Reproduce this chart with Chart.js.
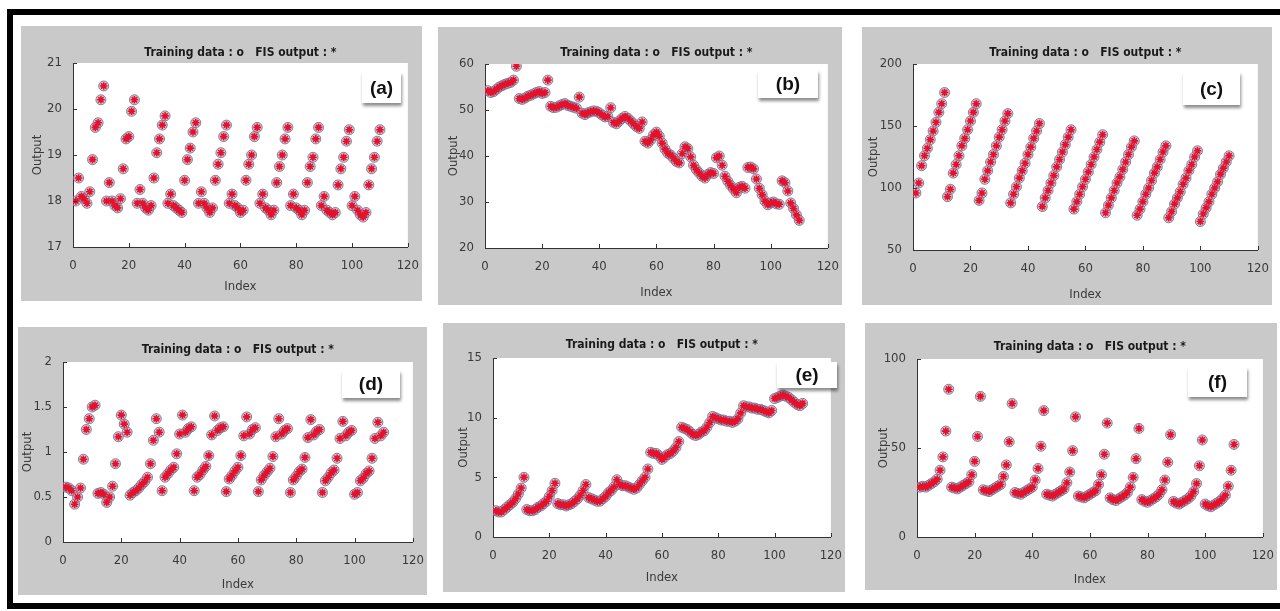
<!DOCTYPE html>
<html>
<head>
<meta charset="utf-8">
<script src="https://cdn.jsdelivr.net/npm/chart.js@4.4.0/dist/chart.umd.min.js"></script>
<style>
body{margin:0;width:1280px;height:611px;background:#fff;position:relative;overflow:hidden;}
#frame{position:absolute;left:7px;top:9px;width:1300px;height:600px;border:6px solid #000;border-right:none;box-sizing:border-box;}
.panel{position:absolute;background:#c9c9c9;}
.panel canvas{position:absolute;left:0;top:0;}
.tag{position:absolute;background:#fff;font:bold 19px "Liberation Sans",Arial,sans-serif;color:#111;
     display:flex;align-items:center;justify-content:center;box-shadow:1px 3px 3px rgba(0,0,0,0.45);}
</style>
</head>
<body>
<div id="frame"></div>
<script>
// 가로축: 데이터 순번 1~110, 눈금
const index = [];
for (let i = 1; i <= 110; i++) index.push(i);
const xTicks = [0, 20, 40, 60, 80, 100, 120];

// (a) 학습 데이터 값 (FIS 출력은 그림에서 학습 데이터와 겹쳐 있음)
const outA = [
  18.0, 18.5, 18.1, 18.05, 17.95, 18.2, 18.9, 19.6, 19.7, 20.2, 20.5,
  18.0, 18.4, 18.0, 17.9, 17.85, 18.05, 18.7, 19.35, 19.4, 19.95, 20.2,
  17.95, 18.25, 17.95, 17.85, 17.8, 17.9, 18.5, 19.05, 19.35, 19.65, 19.85,
  17.95, 18.15, 17.9, 17.85, 17.8, 17.75, 18.45, 18.9, 19.15, 19.5, 19.7,
  17.95, 18.2, 17.95, 17.85, 17.75, 17.85, 18.45, 18.8, 19.05, 19.4, 19.65,
  17.95, 18.15, 17.9, 17.85, 17.75, 17.8, 18.45, 18.8, 19.0, 19.4, 19.6,
  17.95, 18.15, 17.85, 17.8, 17.7, 17.8, 18.4, 18.75, 19.0, 19.35, 19.6,
  17.9, 18.15, 17.85, 17.8, 17.7, 17.8, 18.4, 18.75, 18.95, 19.35, 19.6,
  17.9, 18.1, 17.8, 17.75, 17.7, 17.75, 18.35, 18.7, 18.95, 19.3, 19.55,
  17.9, 18.1, 17.8, 17.7, 17.65, 17.75, 18.35, 18.7, 18.95, 19.3, 19.55
];
const yTicksA = [17, 18, 19, 20, 21];

// (b)
const outB = [
  54.2, 53.8, 54.0, 54.5, 55.0, 55.3, 55.6, 55.8, 56.0, 56.5, 59.5,
  52.5, 52.3, 52.6, 53.0, 53.2, 53.5, 53.8, 54.0, 53.6, 53.8, 56.5,
  50.8, 50.5, 50.6, 50.9, 51.2, 51.4, 51.0, 50.8, 50.6, 50.4, 52.8,
  49.3, 49.0, 49.4, 49.6, 49.8, 49.7, 49.4, 48.9, 48.5, 48.6, 50.5,
  47.3, 47.0, 47.6, 48.2, 48.6, 48.2, 47.6, 47.0, 46.4, 46.0, 47.4,
  43.2, 42.8, 43.5, 44.6, 45.2, 44.3, 42.8, 41.5, 40.6, 40.2, 39.5,
  38.8, 38.5, 40.5, 42.0, 41.6, 39.8, 38.0, 37.0, 36.3, 35.6, 35.2,
  36.0, 36.4, 36.2, 39.6, 40.0, 38.0, 35.6, 34.5, 33.6, 32.8, 32.0,
  33.2, 33.4, 33.0, 37.5, 37.6, 37.2, 35.0, 33.0, 31.6, 30.2, 29.4,
  29.8, 30.0, 29.6, 29.5, 34.6, 34.2, 32.4, 29.8, 28.6, 27.2, 26.0
];
const yTicksB = [20, 30, 40, 50, 60];

// (c)
const outC = [
  96, 104, 118, 126, 132, 139, 146, 153, 161, 168, 177,
  93, 99, 112, 119, 126, 134, 140, 147, 154, 161, 168,
  90, 96, 107, 114, 121, 127, 134, 141, 147, 154, 160,
  88, 95, 101, 108, 114, 120, 127, 133, 140, 146, 152,
  85, 92, 98, 104, 110, 117, 123, 129, 135, 141, 147,
  83, 89, 95, 101, 107, 113, 119, 125, 131, 137, 143,
  80, 86, 92, 98, 104, 109, 115, 121, 127, 133, 138,
  78, 83, 89, 95, 100, 106, 112, 117, 123, 129, 134,
  76, 81, 87, 92, 97, 103, 108, 114, 119, 125, 130,
  73, 79, 84, 89, 95, 100, 105, 111, 116, 121, 126
];
const yTicksC = [50, 100, 150, 200];

// (d)
const outD = [
  0.61, 0.60, 0.57, 0.42, 0.50, 0.60, 0.92, 1.25, 1.37, 1.50, 1.52,
  0.54, 0.55, 0.53, 0.44, 0.50, 0.62, 0.87, 1.17, 1.41, 1.31, 1.22,
  0.52, 0.55, 0.57, 0.60, 0.64, 0.67, 0.72, 0.87, 1.13, 1.37, 1.22,
  0.57, 0.72, 0.76, 0.80, 0.83, 0.98, 1.20, 1.41, 1.22, 1.26, 1.28,
  0.57, 0.72, 0.75, 0.80, 0.84, 0.96, 1.19, 1.40, 1.24, 1.27, 1.28,
  0.56, 0.70, 0.74, 0.79, 0.83, 0.96, 1.18, 1.39, 1.20, 1.25, 1.27,
  0.56, 0.69, 0.74, 0.78, 0.82, 0.95, 1.17, 1.37, 1.20, 1.24, 1.26,
  0.55, 0.69, 0.73, 0.78, 0.81, 0.94, 1.16, 1.36, 1.19, 1.23, 1.25,
  0.55, 0.68, 0.72, 0.77, 0.80, 0.93, 1.15, 1.34, 1.18, 1.22, 1.24,
  0.53, 0.55, 0.68, 0.71, 0.76, 0.79, 0.93, 1.15, 1.33, 1.18, 1.22
];
const yTicksD = [0, 0.5, 1, 1.5, 2];

// (e)
const outE = [
  2.2, 2.1, 2.1, 2.3, 2.5, 2.7, 2.9, 3.2, 3.6, 4.1, 5.0,
  2.3, 2.2, 2.2, 2.3, 2.5, 2.6, 2.8, 3.0, 3.4, 3.9, 4.5,
  2.8, 2.7, 2.7, 2.6, 2.7, 2.8, 3.0, 3.2, 3.5, 3.9, 4.4,
  3.3, 3.2, 3.1, 3.0, 3.0, 3.2, 3.4, 3.7, 3.9, 4.2, 4.8,
  4.4, 4.3, 4.3, 4.2, 4.1, 4.0, 4.1, 4.4, 4.7, 5.0, 5.7,
  7.1, 7.0, 7.0, 6.8, 6.5, 6.7, 6.9, 7.0, 7.2, 7.5, 8.0,
  9.2, 9.1, 9.0, 8.8, 8.6, 8.5, 8.6, 8.8, 8.9, 9.2, 9.6,
  10.1, 10.0, 9.9, 9.8, 9.8, 9.7, 9.7, 9.6, 9.7, 9.9, 10.4,
  11.0, 10.9, 10.9, 10.8, 10.8, 10.7, 10.7, 10.6, 10.5, 10.4, 10.6,
  11.6, 11.7, 11.8, 11.9, 11.8, 11.7, 11.5, 11.3, 11.1, 11.0, 11.2
];
const yTicksE = [0, 5, 10, 15];

// (f)
const outF = [
  28, 28.5, 28, 29, 30, 31, 32.5, 37.5, 45, 59.5, 83,
  28, 27.5, 27, 28, 29, 30, 31, 35, 42.5, 56.5, 79,
  26.5, 26, 25.5, 26.5, 27.5, 28.5, 29.5, 34, 40.5, 53.5, 75,
  25, 24.5, 24, 25, 26, 27, 28, 32, 38.5, 51, 71,
  24, 23.5, 23, 24, 25, 26, 27, 30.5, 36.5, 48.5, 67.5,
  23, 22.5, 22, 23, 24, 25, 26, 29.5, 35, 46.5, 64,
  22, 21, 20.5, 21.5, 22.5, 23.5, 25, 28, 33.5, 44, 61,
  21, 20, 19.5, 20.5, 21.5, 22.5, 24, 26.5, 32, 42, 57.5,
  20, 19, 18.5, 19.5, 20.5, 21.5, 23, 25.5, 30, 40, 54.5,
  18.5, 17.5, 17, 18, 19, 20, 21.5, 23.5, 28.5, 37.5, 52
];
const yTicksF = [0, 50, 100];

const TITLE = 'Training data : o   FIS output : *';
const NARROW = '"Liberation Sans Narrow","DejaVu Sans Condensed","Liberation Sans",Arial,sans-serif';

// 패널 배치: 회색 박스 / 흰 플롯 영역 / 제목 위치 / 라벨 상자
const panels = [
  {tag:'(a)', y:outA, yTicks:yTicksA, box:[21,26,422,301], plot:[73,63,408,247], titleY:53, yTitleX:38, xTitleY:287, tagBox:[362,72,39,31]},
  {tag:'(b)', y:outB, yTicks:yTicksB, box:[438,27,842,305], plot:[485,64,828,248], titleY:53, yTitleX:454, xTitleY:293, tagBox:[758,70,60,28]},
  {tag:'(c)', y:outC, yTicks:yTicksC, box:[862,27,1272,305], plot:[913,64,1260,250], titleY:53, yTitleX:874, xTitleY:295, tagBox:[1183,72,57,33]},
  {tag:'(d)', y:outD, yTicks:yTicksD, box:[18,327,427,595], plot:[63,362,413,542], titleY:350, yTitleX:28, xTitleY:585, tagBox:[342,370,58,28]},
  {tag:'(e)', y:outE, yTicks:yTicksE, box:[443,323,845,592], plot:[493,358,833,537], titleY:345, yTitleX:464, xTitleY:578, tagBox:[777,362,60,26]},
  {tag:'(f)', y:outF, yTicks:yTicksF, box:[865,323,1277,590], plot:[917,359,1265,537], titleY:347, yTitleX:884, xTitleY:580, tagBox:[1188,367,59,30]}
];

//플롯 영역 흰 배경
const whiteArea = {
  id: 'whiteArea',
  beforeDraw(chart){
    const {ctx, chartArea:a} = chart;
    ctx.save();
    ctx.fillStyle = '#fff';
    ctx.fillRect(a.left, a.top, a.right - a.left, a.bottom - a.top);
    ctx.restore();
  }
};
//안쪽으로 향한 눈금 (매트랩 스타일)
const inTicks = {
  id: 'inTicks',
  afterDraw(chart){
    const {ctx, chartArea:a, scales:{x, y}} = chart;
    ctx.save();
    ctx.strokeStyle = '#333';
    ctx.lineWidth = 1;
    ctx.beginPath();
    x.ticks.forEach(t => {
      const px = Math.round(x.getPixelForValue(t.value)) + 0.5;
      ctx.moveTo(px, a.bottom); ctx.lineTo(px, a.bottom - 4);
    });
    y.ticks.forEach(t => {
      const py = Math.round(y.getPixelForValue(t.value)) + 0.5;
      ctx.moveTo(a.left, py); ctx.lineTo(a.left + 4, py);
    });
    ctx.stroke();
    ctx.restore();
  }
};

function drawPanel(p){
  const [gl, gt, gr, gb] = p.box;
  const [pl, pt, pr, pb] = p.plot;
  const w = gr - gl, h = gb - gt;
  const div = document.createElement('div');
  div.className = 'panel';
  div.style.cssText = 'left:' + gl + 'px;top:' + gt + 'px;width:' + w + 'px;height:' + h + 'px';
  const cv = document.createElement('canvas');
  cv.width = w; cv.height = h;
  div.appendChild(cv);
  document.body.appendChild(div);

  const lh = 13 * 1.2;
  const tlh = 12 * 1.2;
  const pts = index.map((x, i) => ({x: x, y: p.y[i]}));
  const tickFont = {family: NARROW, size: 13};

  new Chart(cv, {
    type: 'scatter',
    data: {datasets: [
      {label: 'FIS output', data: pts, order: 0, pointStyle: 'star', pointRadius: 3.8,
       borderColor: '#e3122b', backgroundColor: '#e3122b', borderWidth: 1.6},
      {label: 'Training data', data: pts, order: 1, pointStyle: 'circle', pointRadius: 5,
       borderColor: 'rgba(95,115,155,0.85)', backgroundColor: 'rgba(214,140,165,0.55)', borderWidth: 1}
    ]},
    options: {
      responsive: false,
      animation: false,
      events: [],
      layout: {padding: {left: 0, top: 0, right: gr - pr, bottom: 0}},
      plugins: {
        legend: {display: false},
        tooltip: {enabled: false},
        title: {display: true, text: TITLE, fullSize: false, color: '#1a1a1a',
                font: {family: NARROW, size: 12, weight: 'bold'},
                padding: {top: p.titleY - gt - tlh / 2, bottom: pt - p.titleY - tlh / 2}}
      },
      scales: {
        x: {
          type: 'linear', min: 0, max: 120,
          afterBuildTicks: s => { s.ticks = xTicks.map(v => ({value: v})); },
          afterFit: s => { s.height = gb - pb; },
          grid: {display: false},
          border: {display: true, color: '#333'},
          ticks: {font: tickFont, color: '#3a3a3a', padding: 3, maxRotation: 0, callback: v => String(v)},
          title: {display: true, text: 'Index', color: '#3a3a3a', font: {family: NARROW, size: 13},
                  padding: {top: 0, bottom: gb - p.xTitleY - lh / 2}}
        },
        y: {
          type: 'linear', min: p.yTicks[0], max: p.yTicks[p.yTicks.length - 1],
          afterBuildTicks: s => { s.ticks = p.yTicks.map(v => ({value: v})); },
          afterFit: s => { s.width = pl - gl; },
          grid: {display: false},
          border: {display: true, color: '#333'},
          ticks: {font: tickFont, color: '#3a3a3a', padding: 3, callback: v => String(v)},
          title: {display: true, text: 'Output', color: '#3a3a3a', font: {family: NARROW, size: 13},
                  padding: {top: p.yTitleX - gl - lh / 2, bottom: 0}}
        }
      }
    },
    plugins: [whiteArea, inTicks]
  });

  const tg = document.createElement('div');
  tg.className = 'tag';
  tg.textContent = p.tag;
  tg.style.left = p.tagBox[0] + 'px';
  tg.style.top = p.tagBox[1] + 'px';
  tg.style.width = p.tagBox[2] + 'px';
  tg.style.height = p.tagBox[3] + 'px';
  document.body.appendChild(tg);
}

panels.forEach(drawPanel);
</script>
</body>
</html>
